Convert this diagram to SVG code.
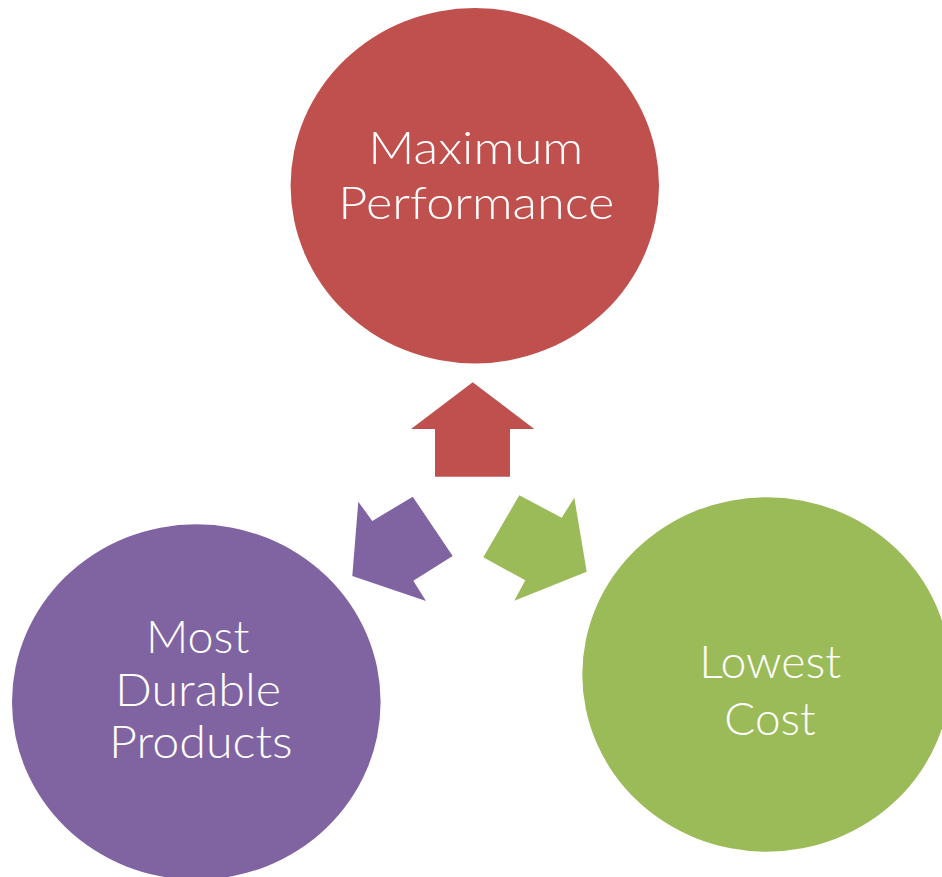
<svg xmlns="http://www.w3.org/2000/svg" width="942" height="877" viewBox="0 0 942 877">
<style>
.lbl{font-family:"Lato","Open Sans","DejaVu Sans",sans-serif;font-weight:300;font-size:46px;fill:#ffffff;text-anchor:middle}
.red{fill:#C0504D}
.purple{fill:#8064A2}
.green{fill:#9BBB59}
</style>
<rect width="942" height="877" fill="#ffffff"/>
<g id="node-performance">
<ellipse class="red" cx="474.8" cy="185.7" rx="184.2" ry="177.7"/>
<text class="lbl" x="475.8" y="164" textLength="215" lengthAdjust="spacingAndGlyphs">Maximum</text>
<text class="lbl" x="476.3" y="219.3" textLength="276" lengthAdjust="spacingAndGlyphs">Performance</text>
</g>
<g id="node-durable">
<ellipse class="purple" cx="196.3" cy="702" rx="184.3" ry="177.7"/>
<text class="lbl" x="197.7" y="653.3" textLength="103.3" lengthAdjust="spacingAndGlyphs">Most</text>
<text class="lbl" x="198" y="706" textLength="166" lengthAdjust="spacingAndGlyphs">Durable</text>
<text class="lbl" x="200.8" y="758.3" textLength="183.7" lengthAdjust="spacingAndGlyphs">Products</text>
</g>
<g id="node-cost">
<ellipse class="green" cx="766.5" cy="674.5" rx="184.2" ry="177.2"/>
<text class="lbl" x="770.2" y="677.7" textLength="141.7" lengthAdjust="spacingAndGlyphs">Lowest</text>
<text class="lbl" x="770" y="735" textLength="91.3" lengthAdjust="spacingAndGlyphs">Cost</text>
</g>
<g id="connectors">
<polygon class="red" points="472.7,382.3 534.3,429 510,429 510,476.7 435,476.7 435,429 411,429"/>
<polygon class="purple" points="358.3,501.7 372.3,521 412.7,496.7 452.7,556 413.3,580.7 426,601 352.3,576"/>
<polygon class="green" points="519.3,495.3 561.7,517.7 574.3,497.7 586.7,571.7 514.3,600.7 525.3,580.3 483.3,557.3"/>
</g>
</svg>
